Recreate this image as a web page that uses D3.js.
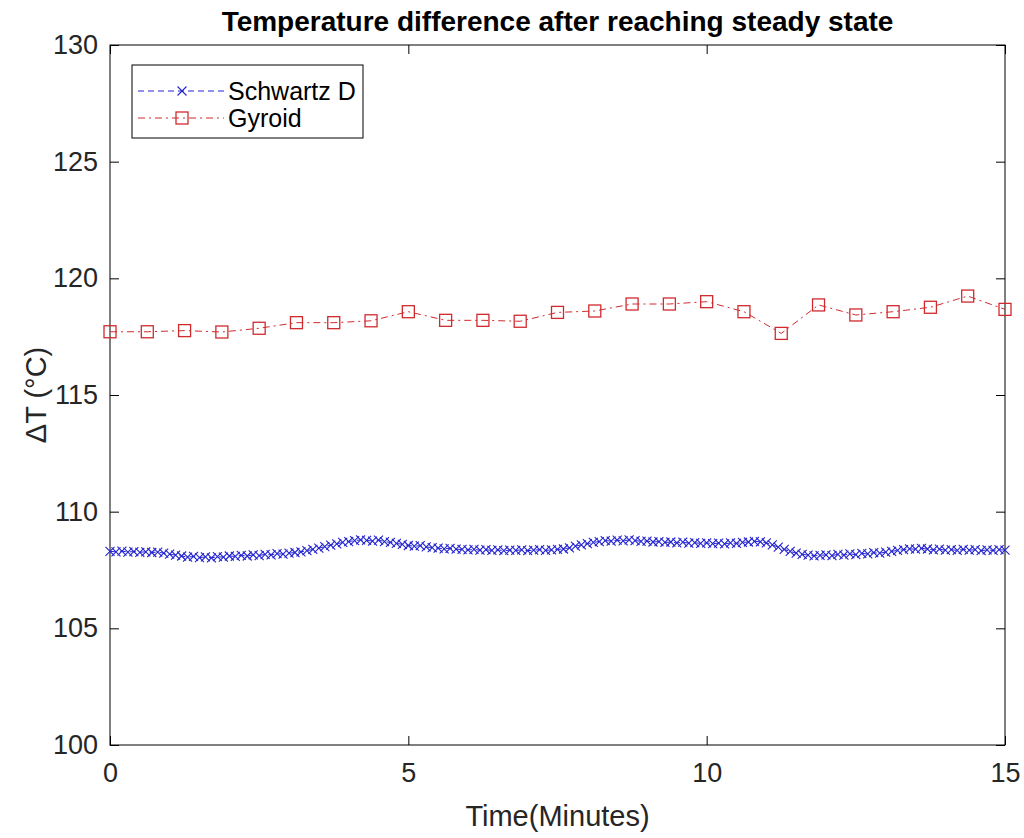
<!DOCTYPE html>
<html>
<head>
<meta charset="utf-8">
<script src="https://cdn.jsdelivr.net/npm/d3@7"></script>
<style>
  html, body { margin: 0; padding: 0; background: #fff; }
  svg { display: block; font-family: "Liberation Sans", Arial, Helvetica, sans-serif; }
</style>
</head>
<body>
<svg id="chart" width="1024" height="838"></svg>
<script>
// Gyroid: one reading every 0.625 min
const gyroidTimeStep = 0.625;
const gyroidValues = [
  117.71, 117.71, 117.76, 117.70, 117.86, 118.10, 118.10, 118.18, 118.57,
  118.20, 118.20, 118.16, 118.54, 118.60, 118.90, 118.90, 119.00, 118.57,
  117.64, 118.86, 118.43, 118.57, 118.76, 119.24, 118.67
];

// Schwartz D: one reading every 0.1 min
const schwartzTimeStep = 0.1;
const schwartzValues = [
  108.30, 108.28, 108.31, 108.27, 108.29, 108.26, 108.28, 108.25, 108.27, 108.22,
  108.18, 108.14, 108.10, 108.05, 108.08, 108.03, 108.06, 108.02, 108.07, 108.05,
  108.10, 108.08, 108.13, 108.10, 108.15, 108.12, 108.17, 108.15, 108.20, 108.18,
  108.22, 108.25, 108.28, 108.33, 108.38, 108.44, 108.50, 108.57, 108.62, 108.68,
  108.72, 108.76, 108.79, 108.77, 108.74, 108.78, 108.72, 108.68, 108.64, 108.60,
  108.55, 108.52, 108.54, 108.49, 108.46, 108.44, 108.41, 108.43, 108.39, 108.38,
  108.36, 108.38, 108.35, 108.37, 108.34, 108.36, 108.33, 108.35, 108.34, 108.36,
  108.33, 108.35, 108.37, 108.34, 108.36, 108.38, 108.40, 108.45, 108.52, 108.58,
  108.63, 108.68, 108.72, 108.76, 108.74, 108.78, 108.75, 108.79, 108.76, 108.73,
  108.74, 108.70, 108.72, 108.68, 108.70, 108.66, 108.69, 108.65, 108.67, 108.64,
  108.66, 108.63, 108.65, 108.62, 108.66, 108.64, 108.68, 108.70, 108.73, 108.71,
  108.66, 108.58, 108.48, 108.38, 108.30, 108.22, 108.17, 108.14, 108.11, 108.13,
  108.15, 108.12, 108.17, 108.14, 108.19, 108.16, 108.21, 108.19, 108.24, 108.22,
  108.27, 108.30, 108.34, 108.37, 108.41, 108.39, 108.43, 108.40, 108.36, 108.39,
  108.35, 108.37, 108.34, 108.38, 108.35, 108.37, 108.33, 108.36, 108.34, 108.37,
  108.35
];

const xTicks = [0, 5, 10, 15];
const yTicks = [100, 105, 110, 115, 120, 125, 130];
const seriesNames = ["Schwartz D", "Gyroid"];

const schwartzData = schwartzValues.map((v, i) => ({ t: +(i * schwartzTimeStep).toFixed(3), v }));
const gyroidData = gyroidValues.map((v, i) => ({ t: i * gyroidTimeStep, v }));

const blue = "#2424d0";
const red = "#d02a2e";
const textColor = "#262626";

const plot = { left: 110, right: 1005, top: 45, bottom: 745 };

const svg = d3.select("#chart");
const x = d3.scaleLinear().domain([0, 15]).range([plot.left, plot.right]);
const y = d3.scaleLinear().domain([100, 130]).range([plot.bottom, plot.top]);

// Axes with inward ticks on all four sides
function styleAxis(g) {
  g.select(".domain").remove();
  g.selectAll(".tick line").attr("stroke", "#000").attr("stroke-width", 1);
  g.selectAll(".tick text").attr("fill", textColor).style("font-size", "27px");
}

svg.append("g")
  .attr("transform", `translate(0,${plot.bottom})`)
  .call(d3.axisBottom(x).tickValues(xTicks).tickSizeInner(-9).tickSizeOuter(0).tickPadding(18))
  .call(styleAxis);

svg.append("g")
  .attr("transform", `translate(0,${plot.top})`)
  .call(d3.axisTop(x).tickValues(xTicks).tickSizeInner(-9).tickSizeOuter(0).tickFormat(""))
  .call(styleAxis);

svg.append("g")
  .attr("transform", `translate(${plot.left},0)`)
  .call(d3.axisLeft(y).tickValues(yTicks).tickSizeInner(-9).tickSizeOuter(0).tickPadding(12))
  .call(styleAxis);

svg.append("g")
  .attr("transform", `translate(${plot.right},0)`)
  .call(d3.axisRight(y).tickValues(yTicks).tickSizeInner(-9).tickSizeOuter(0).tickFormat(""))
  .call(styleAxis);

// Plot box
svg.append("rect")
  .attr("x", plot.left).attr("y", plot.top)
  .attr("width", plot.right - plot.left).attr("height", plot.bottom - plot.top)
  .attr("fill", "none").attr("stroke", "#000").attr("stroke-width", 1);

const line = d3.line().x(d => x(d.t)).y(d => y(d.v));

// Schwartz D: dashed line with x markers
svg.append("path")
  .datum(schwartzData)
  .attr("d", line)
  .attr("fill", "none").attr("stroke", blue).attr("stroke-width", 1)
  .attr("stroke-dasharray", "6,4");

const xMark = 4.5;
svg.append("g").selectAll("path")
  .data(schwartzData)
  .join("path")
  .attr("transform", d => `translate(${x(d.t)},${y(d.v)})`)
  .attr("d", `M${-xMark},${-xMark}L${xMark},${xMark}M${-xMark},${xMark}L${xMark},${-xMark}`)
  .attr("stroke", blue).attr("stroke-width", 1.1).attr("fill", "none");

// Gyroid: dash-dot line with square markers
svg.append("path")
  .datum(gyroidData)
  .attr("d", line)
  .attr("fill", "none").attr("stroke", red).attr("stroke-width", 1)
  .attr("stroke-dasharray", "7,4,2,4");

const sq = 6;
svg.append("g").selectAll("rect")
  .data(gyroidData)
  .join("rect")
  .attr("x", d => x(d.t) - sq).attr("y", d => y(d.v) - sq)
  .attr("width", sq * 2).attr("height", sq * 2)
  .attr("fill", "none").attr("stroke", red).attr("stroke-width", 1.3);

// Title and axis labels
svg.append("text")
  .attr("x", (plot.left + plot.right) / 2).attr("y", 31)
  .attr("text-anchor", "middle")
  .attr("fill", "#000")
  .style("font-size", "28px").style("font-weight", "bold")
  .text("Temperature difference after reaching steady state");

svg.append("text")
  .attr("x", (plot.left + plot.right) / 2).attr("y", 826)
  .attr("text-anchor", "middle")
  .attr("fill", textColor)
  .style("font-size", "29px")
  .text("Time(Minutes)");

svg.append("text")
  .attr("transform", `translate(46,${(plot.top + plot.bottom) / 2}) rotate(-90)`)
  .attr("text-anchor", "middle")
  .attr("fill", textColor)
  .style("font-size", "29px")
  .text("ΔT (°C)");

// Legend
const legend = svg.append("g").attr("transform", "translate(132,65)");
legend.append("rect")
  .attr("width", 231).attr("height", 73)
  .attr("fill", "#fff").attr("stroke", "#000").attr("stroke-width", 1);

const legendRows = [
  { name: seriesNames[0], color: blue, dash: "6,4", marker: "x", yy: 26 },
  { name: seriesNames[1], color: red, dash: "7,4,2,4", marker: "s", yy: 53 }
];

legendRows.forEach(r => {
  const g = legend.append("g").attr("transform", `translate(0,${r.yy})`);
  g.append("line")
    .attr("x1", 6).attr("x2", 92).attr("y1", 0).attr("y2", 0)
    .attr("stroke", r.color).attr("stroke-width", 1).attr("stroke-dasharray", r.dash);
  if (r.marker === "x") {
    g.append("path")
      .attr("transform", "translate(50,0)")
      .attr("d", `M${-xMark},${-xMark}L${xMark},${xMark}M${-xMark},${xMark}L${xMark},${-xMark}`)
      .attr("stroke", r.color).attr("stroke-width", 1.1).attr("fill", "none");
  } else {
    g.append("rect")
      .attr("x", 50 - sq).attr("y", -sq).attr("width", sq * 2).attr("height", sq * 2)
      .attr("fill", "none").attr("stroke", r.color).attr("stroke-width", 1.3);
  }
  g.append("text")
    .attr("x", 96).attr("y", 0).attr("dy", "0.35em")
    .attr("fill", "#000")
    .style("font-size", "25px")
    .text(r.name);
});
</script>
</body>
</html>
